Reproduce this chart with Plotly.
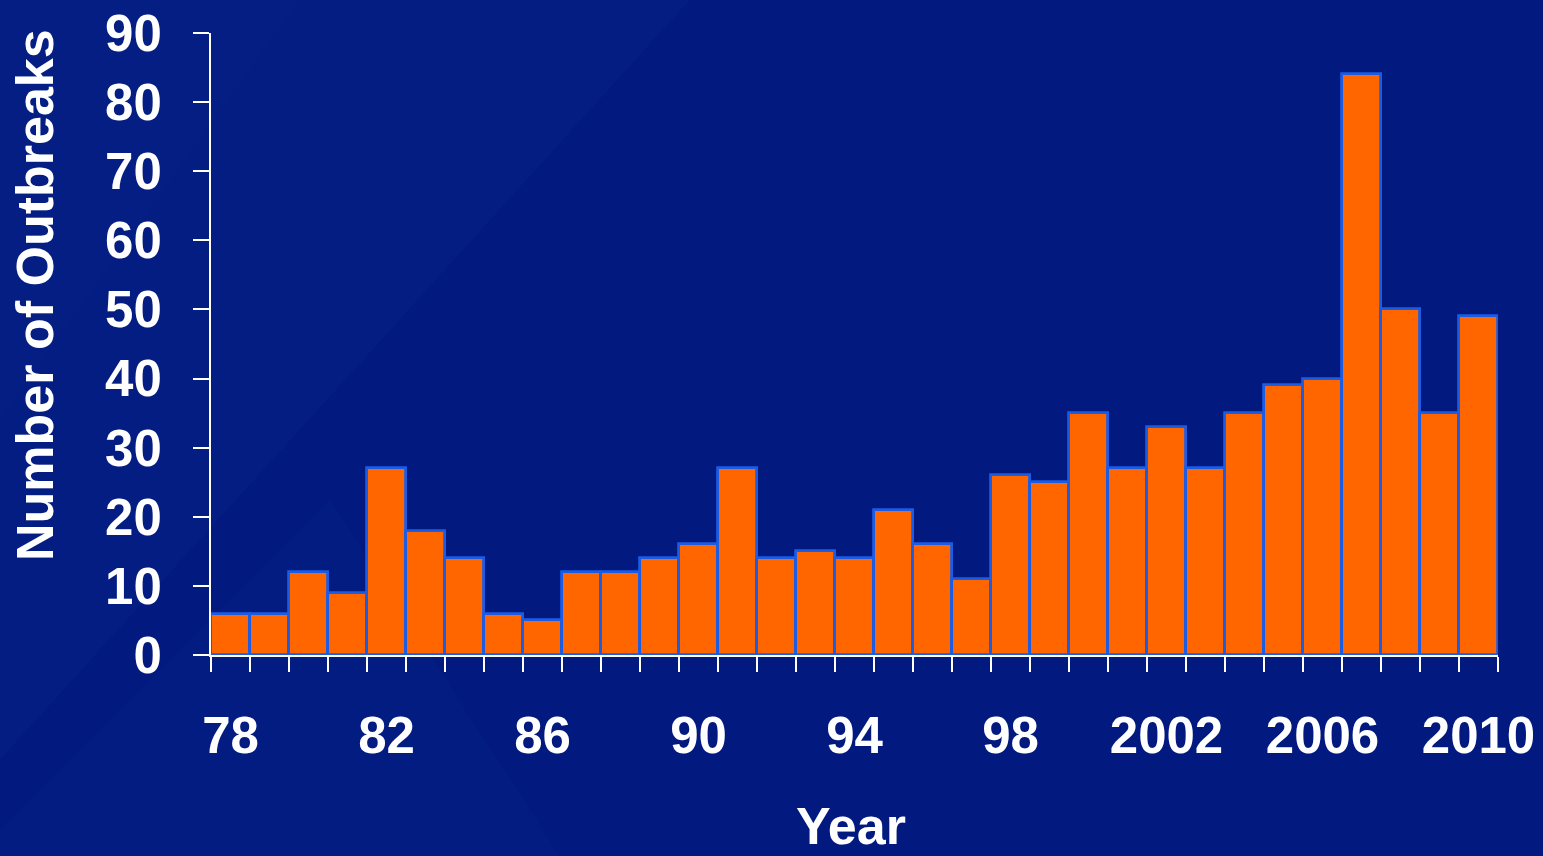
import plotly.graph_objects as go

# Outbreaks per year, 1978-2010
years = list(range(1978, 2011))
outbreaks = [6, 6, 12, 9, 27, 18, 14, 6, 5, 12, 12, 14, 16, 27, 14, 15, 14,
             21, 16, 11, 26, 25, 35, 27, 33, 27, 35, 39, 40, 84, 50, 35, 49]

label_years = [1978, 1982, 1986, 1990, 1994, 1998, 2002, 2006, 2010]
label_text = ["78", "82", "86", "90", "94", "98", "2002", "2006", "2010"]

W, H = 1543, 856
ML, MR, MT, MB = 211, 45, 33, 201
PW, PH = W - ML - MR, H - MT - MB

BG = "#021a7f"
FONT = "Liberation Sans, Arial, sans-serif"


def px(x):
    return (x - ML) / PW


def py(y):
    return (H - MB - y) / PH


def poly(points):
    return "M " + " L ".join(f"{px(x):.5f},{py(y):.5f}" for x, y in points) + " Z"


fig = go.Figure(go.Bar(
    x=years, y=outbreaks,
    marker=dict(color="#ff6600", line=dict(color="#1a5ce6", width=2.8)),
    width=1.0,
))

# soft diagonal sheen over the dark blue backdrop
sheen = [
    ([(0, 0), (690, 0), (0, 760)], 0.03),
    ([(0, 0), (300, 0), (0, 420)], 0.015),
    ([(0, 856), (0, 830), (330, 500), (560, 856)], 0.018),
]
shapes = [
    dict(type="path", path=poly(pts), xref="paper", yref="paper",
         fillcolor=f"rgba(90,130,255,{a})", line=dict(width=0), layer="below")
    for pts, a in sheen
]

fig.update_layout(
    width=W, height=H,
    margin=dict(l=ML, r=MR, t=MT, b=MB, pad=0),
    paper_bgcolor=BG, plot_bgcolor="rgba(0,0,0,0)",
    bargap=0, showlegend=False,
    font=dict(family=FONT, color="white", size=51),
    shapes=shapes,
    xaxis=dict(
        range=[1977.5, 2010.5], tickmode="array",
        tickvals=label_years, ticktext=label_text,
        ticks="", showgrid=False, zeroline=False, automargin=False,
        showline=True, linecolor="white", linewidth=2,
        tickfont=dict(family=FONT, size=51, color="white", weight="bold"),
        ticklabelstandoff=35,
        minor=dict(tick0=1977.5, dtick=1, ticks="outside", ticklen=15,
                   tickwidth=2, tickcolor="white", showgrid=False),
    ),
    yaxis=dict(
        range=[0, 90], tickmode="linear", tick0=0, dtick=10,
        ticks="outside", ticklen=16, tickwidth=2, tickcolor="white",
        showgrid=False, zeroline=False, automargin=False,
        showline=True, linecolor="white", linewidth=2,
        tickfont=dict(family=FONT, size=51, color="white", weight="bold"),
        ticklabelstandoff=21,
    ),
    annotations=[
        dict(text="<b>Number of Outbreaks</b>", textangle=-90,
             x=px(35), y=py(295), xref="paper", yref="paper",
             xanchor="center", yanchor="middle", showarrow=False,
             font=dict(family=FONT, size=52, color="white")),
        dict(text="<b>Year</b>",
             x=px(851), y=py(826), xref="paper", yref="paper",
             xanchor="center", yanchor="middle", showarrow=False,
             font=dict(family=FONT, size=52, color="white")),
    ],
)

fig.write_html("out.html")
